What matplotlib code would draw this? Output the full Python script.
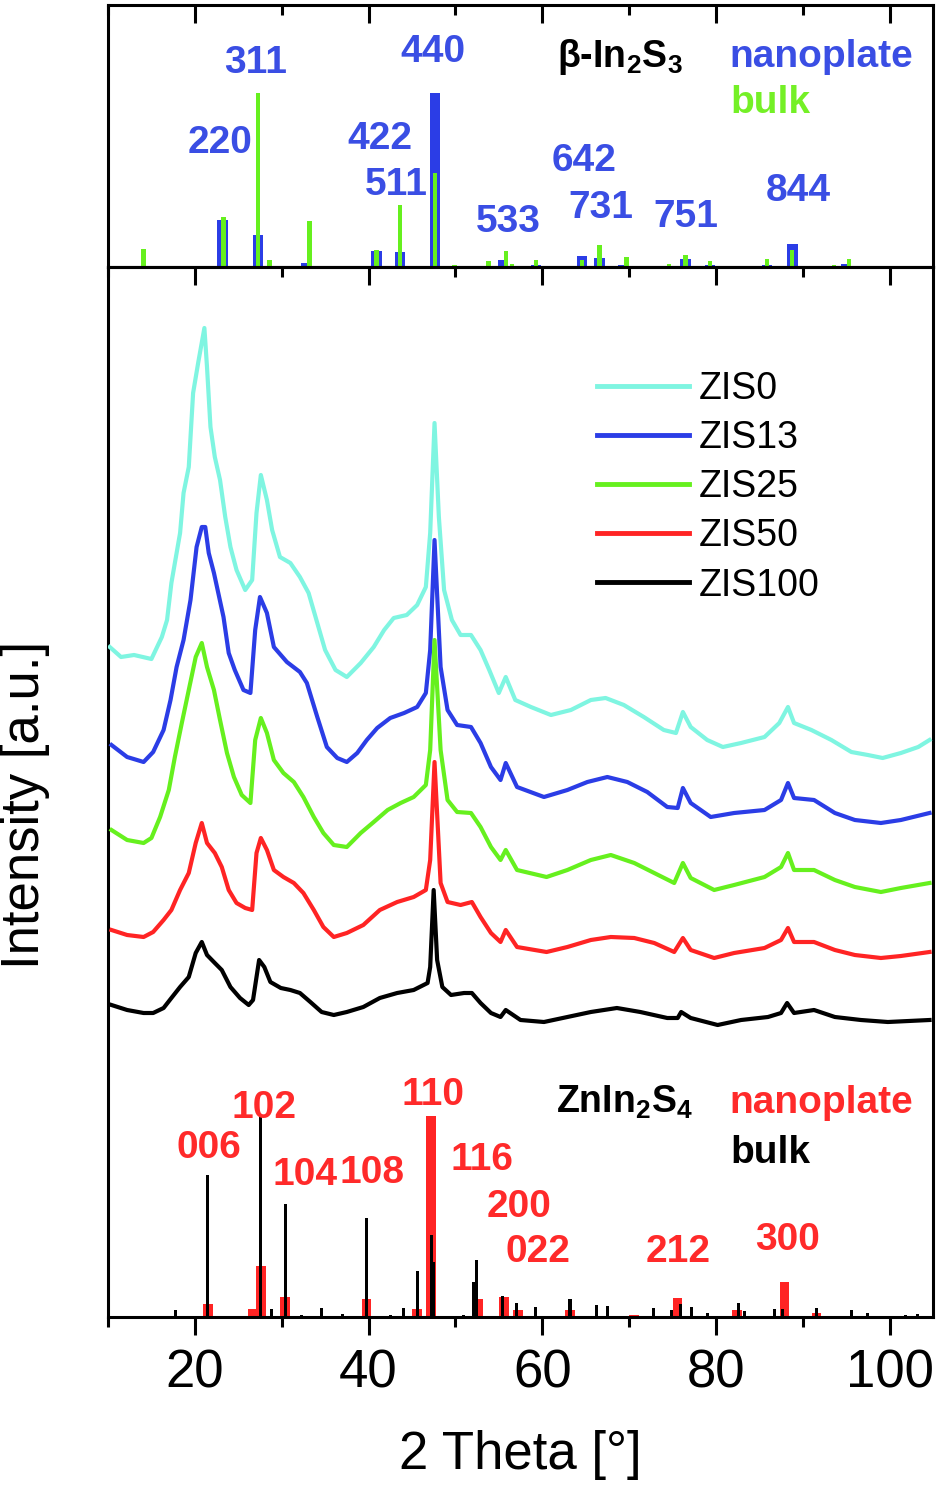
import matplotlib
matplotlib.use('Agg')
import matplotlib.pyplot as plt
from matplotlib.ticker import MultipleLocator

plt.rcParams['font.family'] = ['Liberation Sans', 'DejaVu Sans']
plt.rcParams['mathtext.default'] = 'regular'

# --- XRD curves (2theta, intensity offset in a.u.) ---
zis0_x = [10.2, 11.5, 13, 15, 16.2, 16.8, 17.3, 18.3, 18.7, 19.3, 19.8, 20.4, 21.1, 21.4, 21.8, 22.3,
          22.9, 23.5, 24.1, 24.8, 25.8, 26.6, 27.1, 27.6, 28.3, 28.9, 29.8, 31.0, 32.1, 33.1, 34.1,
          35.0, 36.2, 37.5, 39.1, 40.6, 41.8, 42.9, 44.4, 45.6, 46.6, 47.1, 47.6, 48.1, 48.7, 49.6,
          50.6, 51.8, 52.9, 53.9, 55.0, 55.8, 56.9, 58.7, 61.0, 63.3, 65.6, 67.3, 69.4, 71.7, 74.0,
          75.4, 76.2, 77.1, 79.0, 80.8, 82.9, 85.6, 87.3, 88.3, 89.0, 91.0, 93.3, 95.6, 97.5, 99.2,
          101.3, 103.3, 104.6]
zis0_y = [670, 660, 662, 658, 680, 697, 734, 784, 824, 850, 924, 955, 989, 950, 890, 860,
          837, 800, 770, 747, 727, 737, 804, 842, 817, 787, 760, 754, 740, 724, 694,
          667, 647, 640, 654, 670, 687, 699, 702, 712, 730, 784, 894, 800, 727, 697,
          682, 682, 667, 647, 624, 640, 617, 610, 602, 607, 617, 619, 612, 600, 587,
          584, 605, 590, 577, 570, 574, 580, 594, 610, 594, 587, 577, 565, 562, 559,
          564, 570, 577]

zis13_x = [10.4, 12.2, 14.1, 15.2, 16.4, 17.2, 17.9, 18.7, 19.5, 20.2, 20.8, 21.2, 21.6, 22.2, 22.7,
           23.3, 23.9, 24.6, 25.6, 26.4, 26.95, 27.5, 28.3, 29.1, 30.6, 32.1, 32.9, 34.1, 35.2,
           36.4, 37.5, 38.7, 39.8, 41.0, 42.5, 44.1, 45.6, 46.6, 47.1, 47.6, 48.3, 49.1, 50.2,
           51.8, 52.9, 54.1, 55.2, 55.8, 57.1, 60.2, 62.9, 65.2, 67.5, 69.8, 72.1, 74.4, 75.6,
           76.2, 77.1, 79.4, 82.1, 85.6, 87.5, 88.3, 89.0, 91.3, 93.7, 96.0, 99.0, 101.3, 104.6]
zis13_y = [572, 560, 555, 565, 587, 617, 650, 677, 717, 770, 790, 790, 764, 744, 724,
           700, 664, 647, 627, 624, 687, 720, 704, 670, 655, 645, 634, 600, 570,
           559, 555, 564, 577, 589, 599, 604, 610, 624, 667, 777, 650, 607, 592,
           590, 574, 550, 537, 554, 530, 520, 527, 535, 540, 535, 525, 510, 509,
           529, 514, 500, 504, 507, 517, 534, 519, 517, 504, 497, 494, 497, 504]

zis25_x = [10.4, 12.2, 14.1, 15.0, 16.0, 17.0, 17.7, 18.5, 19.3, 20.1, 20.8, 21.4, 22.2, 22.9, 23.7,
           24.5, 25.4, 26.4, 26.95, 27.6, 28.3, 29.1, 30.2, 31.4, 32.5, 33.7, 34.8, 36.0, 37.5,
           39.1, 40.6, 42.2, 43.7, 45.2, 46.6, 47.1, 47.6, 48.3, 49.1, 50.2, 51.8, 52.9, 54.1,
           55.2, 55.8, 57.1, 60.5, 62.9, 65.6, 67.9, 70.6, 72.9, 75.2, 76.2, 77.1, 79.8, 82.1,
           85.6, 87.5, 88.3, 89.0, 91.3, 93.7, 96.0, 99.0, 101.3, 104.6]
zis25_y = [487, 477, 474, 479, 500, 527, 560, 594, 627, 660, 674, 650, 627, 597, 564,
           540, 522, 514, 577, 599, 584, 557, 544, 535, 520, 500, 484, 472, 470,
           484, 495, 507, 514, 520, 532, 567, 677, 567, 517, 505, 504, 490, 470,
           457, 467, 447, 440, 447, 457, 462, 454, 444, 434, 454, 439, 427, 432,
           440, 450, 464, 447, 447, 437, 430, 425, 429, 434]

zis50_x = [10.4, 12.2, 14.1, 15.2, 16.4, 17.3, 18.3, 19.3, 20.1, 20.8, 21.4, 22.3, 23.1, 23.9, 24.8,
           25.8, 26.6, 27.1, 27.6, 28.3, 29.1, 30.2, 31.4, 32.5, 33.7, 34.8, 36.0, 37.5, 39.4,
           41.3, 43.3, 45.2, 46.6, 47.1, 47.6, 48.3, 49.1, 50.6, 51.9, 52.9, 54.1, 55.2, 55.8,
           57.1, 60.5, 62.9, 65.6, 67.9, 70.6, 72.9, 75.2, 76.2, 77.1, 79.8, 82.1, 85.6, 87.5,
           88.3, 89.0, 91.3, 93.7, 96.0, 99.0, 101.3, 104.6]
zis50_y = [387, 382, 380, 385, 397, 407, 427, 444, 474, 494, 474, 464, 450, 427, 414,
           409, 407, 464, 479, 467, 447, 440, 434, 424, 407, 390, 380, 384, 392,
           407, 415, 420, 427, 457, 555, 434, 415, 412, 415, 400, 384, 375, 387,
           370, 365, 370, 377, 380, 379, 374, 365, 379, 367, 359, 364, 369, 377,
           389, 375, 375, 367, 362, 359, 361, 365]

zis100_x = [10.4, 12.2, 14.1, 15.2, 16.4, 17.3, 18.3, 19.3, 20.1, 20.8, 21.4, 22.3, 23.1, 24.1, 25.2,
            26.2, 26.7, 27.4, 28.0, 28.7, 29.9, 31.0, 32.1, 33.3, 34.6, 36.0, 37.5, 39.4, 41.3,
            43.3, 45.2, 46.8, 47.1, 47.5, 47.9, 48.5, 49.5, 51.0, 51.9, 52.9, 54.1, 55.2, 55.8,
            57.5, 60.2, 62.9, 65.6, 68.6, 71.3, 74.4, 75.6, 76.0, 77.1, 80.2, 82.9, 86.0, 87.5,
            88.2, 89.0, 91.3, 93.7, 96.7, 99.8, 104.6]
zis100_y = [312, 307, 304, 304, 309, 319, 330, 340, 364, 375, 362, 354, 347, 330, 319,
            312, 317, 357, 350, 335, 329, 327, 324, 315, 305, 302, 305, 310, 319,
            324, 327, 334, 350, 427, 357, 330, 322, 324, 324, 314, 304, 300, 307,
            297, 295, 300, 305, 309, 305, 299, 299, 305, 299, 292, 297, 300, 304,
            314, 304, 307, 300, 297, 295, 297]

# --- reference patterns, beta-In2S3 (top panel, relative intensity %) ---
in2s3_np_pos = [23.2, 27.3, 32.8, 40.9, 43.6, 47.65, 55.5, 59.3, 64.6, 66.6, 69.3, 76.5, 79.3,
                85.9, 88.8, 95.0]
in2s3_np_int = [27, 18.7, 2.5, 9.2, 8.7, 100, 3.8, 1, 6.2, 5.4, 1, 4.8, 1, 1, 13.5, 2]
in2s3_bulk_pos = [14.1, 23.3, 27.3, 28.6, 33.2, 40.9, 43.6, 47.65, 49.9, 53.8, 55.8, 56.5, 59.3,
                  61.4, 64.6, 66.6, 69.7, 74.6, 76.5, 79.3, 85.9, 88.8, 93.6, 95.3]
in2s3_bulk_int = [10.6, 29, 100, 4.2, 26.5, 10, 36, 54.4, 1, 3.5, 9.2, 1.5, 3.8, 0.6, 4.2, 12.9,
                  5.8, 1.5, 6.7, 3.5, 4.6, 10, 1, 4.6]
in2s3_hkl = ['220', '311', '422', '511', '440', '533', '642', '731', '751', '844']
in2s3_hkl_x = [22.9, 27.0, 41.3, 43.2, 47.4, 56.1, 64.8, 66.7, 76.5, 89.5]
in2s3_hkl_y = [71.5, 117.6, 74, 47, 124, 26, 61, 34, 29, 44]

# --- reference patterns, ZnIn2S4 (bottom of main panel, a.u.) ---
znis_np_pos = [21.5, 26.7, 27.6, 30.4, 34.5, 39.75, 45.6, 47.2, 52.6, 55.6, 57.2, 63.2, 70.6,
               75.6, 82.4, 87.9, 91.6]
znis_np_int = [13, 8, 51, 20, 1, 18, 8, 201, 18, 20, 7, 7, 2, 19, 7, 35, 4]
znis_bulk_pos = [17.8, 21.5, 27.6, 28.8, 30.4, 32.3, 34.6, 37.0, 39.75, 42.5, 44.0, 45.6, 47.2,
                 47.5, 50.9, 52.1, 52.4, 55.4, 57.0, 59.2, 63.2, 66.3, 67.5, 72.8, 74.9, 75.9,
                 77.2, 79.0, 82.6, 83.3, 86.7, 87.7, 91.6, 95.6, 97.5, 101.8, 103.2]
znis_bulk_int = [7, 142, 202, 8, 113, 2, 9, 3, 99, 2, 9, 46, 82, 55, 2, 35, 57, 21, 14, 10, 18,
                 12, 11, 9, 7, 13, 10, 4, 14, 6, 8, 8, 9, 7, 4, 2, 3]
znis_hkl = ['006', '102', '104', '108', '110', '116', '200', '022', '212', '300']
znis_hkl_x = [21.6, 28.0, 32.7, 40.4, 47.4, 53.1, 57.3, 59.5, 75.7, 88.2]
znis_hkl_y = [169, 209, 142, 144, 222, 157, 110, 65, 65, 77]

labels = ['ZIS0', 'ZIS13', 'ZIS25', 'ZIS50', 'ZIS100']
colors = ['#7ff5e1', '#2b3de6', '#66f01e', '#ff2424', '#000000']
blue_txt = '#3a4ee4'
green_txt = '#74f026'
red_txt = '#ff2a2a'

fig = plt.figure(figsize=(9.38, 14.87), dpi=100)
W, H = 938, 1487
ax_top = fig.add_axes([108 / W, 1 - 267 / H, 825 / W, 262 / H])
ax = fig.add_axes([108 / W, 1 - 1317 / H, 825 / W, 1050 / H])

for a in (ax_top, ax):
    a.set_xlim(10, 105)
    a.xaxis.set_major_locator(MultipleLocator(20))
    a.xaxis.set_minor_locator(MultipleLocator(10))
    a.set_yticks([])
    for s in a.spines.values():
        s.set_linewidth(2.2)

# top panel
ax_top.set_ylim(0, 151)
ax_top.bar(in2s3_np_pos, in2s3_np_int, width=1.2, color=colors[1], zorder=2)
ax_top.bar(in2s3_bulk_pos, in2s3_bulk_int, width=0.5, color=colors[2], zorder=3)
for t, x, y in zip(in2s3_hkl, in2s3_hkl_x, in2s3_hkl_y):
    ax_top.text(x, y, t, color=blue_txt, fontsize=28, fontweight='bold', ha='center', va='center')
ax_top.text(61.7, 115, r'β-In$_2$S$_3$', fontsize=27, fontweight='bold', ha='left', va='baseline')
ax_top.text(81.6, 115, 'nanoplate', color=blue_txt, fontsize=28, fontweight='bold', ha='left', va='baseline')
ax_top.text(81.7, 89, 'bulk', color=green_txt, fontsize=28, fontweight='bold', ha='left', va='baseline')
ax_top.tick_params(axis='x', which='both', direction='in', top=True, bottom=False,
                   labelbottom=False, width=2.2)
ax_top.tick_params(axis='x', which='major', length=13)
ax_top.tick_params(axis='x', which='minor', length=7)

# main panel
ax.set_ylim(0, 1050)
ax.bar(znis_np_pos, znis_np_int, width=1.1, color=colors[3], zorder=2)
ax.bar(znis_bulk_pos, znis_bulk_int, width=0.35, color='black', zorder=3)
for t, x, y in zip(znis_hkl, znis_hkl_x, znis_hkl_y):
    ax.text(x, y, t, color=red_txt, fontsize=28, fontweight='bold', ha='center', va='center')
ax.text(61.6, 204, r'ZnIn$_2$S$_4$', fontsize=27, fontweight='bold', ha='left', va='baseline')
ax.text(81.6, 204, 'nanoplate', color=red_txt, fontsize=28, fontweight='bold', ha='left', va='baseline')
ax.text(81.7, 154, 'bulk', color='black', fontsize=28, fontweight='bold', ha='left', va='baseline')

curves = [(zis0_x, zis0_y), (zis13_x, zis13_y), (zis25_x, zis25_y),
          (zis50_x, zis50_y), (zis100_x, zis100_y)]
for (cx, cy), lab, c in zip(curves, labels, colors):
    ax.plot(cx, cy, color=c, lw=3, label=lab, zorder=4)

ax.tick_params(axis='x', which='both', direction='out', width=2.2, labelsize=38, pad=10)
ax.tick_params(axis='x', which='major', length=13)
ax.tick_params(axis='x', which='minor', length=7)

# ticks at the top of the main panel, pointing down into it
sec = ax.secondary_xaxis('top')
sec.xaxis.set_major_locator(MultipleLocator(20))
sec.xaxis.set_minor_locator(MultipleLocator(10))
sec.tick_params(axis='x', which='both', direction='in', width=2.2, labeltop=False)
sec.tick_params(axis='x', which='major', length=13)
sec.tick_params(axis='x', which='minor', length=7)
sec.spines['top'].set_linewidth(2.2)

leg = ax.legend(loc='upper left', bbox_to_anchor=(597 / W, 1 - 371 / H),
                bbox_transform=fig.transFigure, frameon=False, fontsize=27,
                handlelength=2.45, handletextpad=0.27, labelspacing=0.35,
                borderpad=0, borderaxespad=0)
for ln in leg.get_lines():
    ln.set_linewidth(3.5)

fig.text(25 / W, 1 - 805 / H, 'Intensity [a.u.]', rotation=90, fontsize=38, ha='center', va='center')
fig.text(520 / W, 1 - 1455 / H, '2 Theta [°]', fontsize=38, ha='center', va='center')

fig.savefig('out.png', dpi=100)
